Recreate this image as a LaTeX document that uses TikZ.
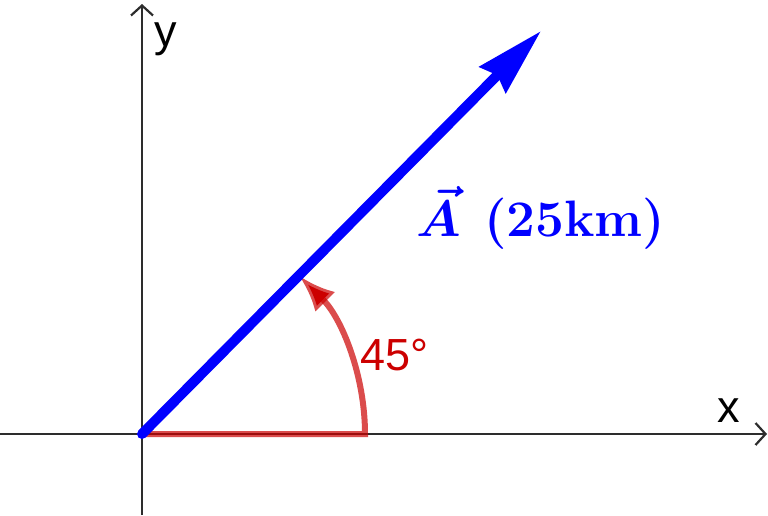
\documentclass[tikz,border=0pt]{standalone}
\usepackage{fontspec}
\usepackage{bm}
\newfontfamily\labfont{Liberation Sans}
\usetikzlibrary{arrows.meta}
\definecolor{axisgray}{RGB}{45,45,45}
\definecolor{vecblue}{RGB}{0,0,255}
\definecolor{angred}{RGB}{204,0,0}
\tikzset{
  axisline/.style={draw=axisgray, line width=2.2pt, -{Straight Barb[length=10pt,width=22pt]}},
  vecline/.style={draw=vecblue, line width=10pt, line cap=round, -{Stealth[length=68pt,width=36pt,inset=6pt]}},
  angline/.style={draw=angred, draw opacity=0.7, line width=6pt, -{Latex[length=36pt,width=28pt]}},
  axlabel/.style={inner sep=0pt, anchor=base west, font=\labfont\fontsize{45}{50}\selectfont},
}
\begin{document}
\begin{tikzpicture}[x=1pt,y=-1pt]
\useasboundingbox[fill=white] (0,0) rectangle (768,515);
\coordinate (O) at (142,434);
\coordinate (xs) at (0,434);
\coordinate (xe) at (767,434);
\coordinate (ys) at (142,515);
\coordinate (ye) at (142,4);
\coordinate (vtip) at (541,31);
\coordinate (arcstart) at (365,434);
\draw[axisline] (xs) -- (xe);
\draw[axisline] (ys) -- (ye);
\draw[angline] (O) -- (arcstart) arc[start angle=0,end angle=-45,radius=223];
\draw[vecline] (O) -- (vtip);
\node[axlabel] (ylab) at (154,46) {y};
\node[axlabel] (xlab) at (717,422) {x};
\node[axlabel, text=angred] (anglab) at (360,370) {45°};
\node[inner sep=0pt, anchor=base west, text=vecblue, font=\huge, scale=2.47] (veclab) at (416,236) {$\bm{\vec{A}}$\hspace{0.45em}\textbf{(25km)}};
\end{tikzpicture}
\end{document}
